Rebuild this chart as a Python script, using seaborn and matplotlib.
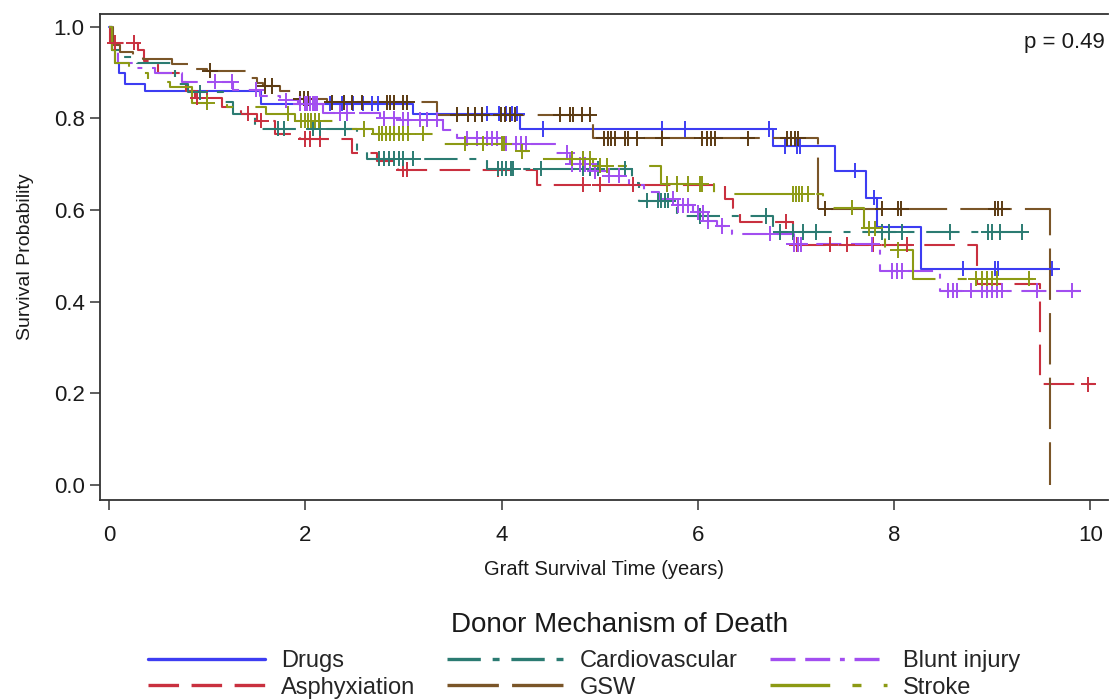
import numpy as np
import pandas as pd
import matplotlib
matplotlib.use("Agg")
import matplotlib.pyplot as plt
import seaborn as sns
from matplotlib.lines import Line2D

# ---------------- data ----------------
groups = ["Drugs", "Asphyxiation", "Cardiovascular", "GSW", "Blunt injury", "Stroke"]

drugs_t = [0, 0.03, 0.06, 0.10, 0.16, 0.37, 1.55, 3.10, 4.19, 6.77, 7.40, 7.71, 7.83, 8.27]
drugs_s = [1.0, 0.95, 0.92, 0.90, 0.875, 0.86, 0.832, 0.81, 0.777, 0.74, 0.686, 0.627, 0.563, 0.472]
drugs_end = 9.67
drugs_cens = [2.25, 2.37, 2.49, 2.59, 2.68, 2.74, 3.85, 3.97, 4.05, 4.11, 4.16, 4.42, 5.64, 5.87,
              6.73, 6.89, 7.01, 7.04, 7.60, 7.80, 8.70, 9.03, 9.06, 9.61]

asph_t = [0, 0.01, 0.30, 0.36, 0.50, 0.74, 0.78, 0.88, 1.15, 1.34, 1.51, 1.69, 1.95, 2.48, 2.73,
          2.94, 4.36, 6.28, 6.36, 6.43, 6.97, 8.85, 9.49]
asph_s = [1.0, 0.965, 0.95, 0.925, 0.90, 0.88, 0.86, 0.845, 0.825, 0.81, 0.795, 0.767, 0.755, 0.725,
          0.707, 0.688, 0.655, 0.625, 0.605, 0.575, 0.524, 0.439, 0.22]
asph_end = 10.05
asph_cens = [0.06, 0.25, 0.90, 1.00, 1.42, 1.55, 2.00, 2.05, 2.15, 3.00, 3.04, 3.96, 4.83, 5.00,
             5.34, 6.90, 7.01, 7.35, 7.52, 7.79, 8.13, 8.95, 9.98]

cv_t = [0, 0.03, 0.12, 0.29, 0.67, 0.80, 1.16, 1.26, 1.49, 2.53, 2.63, 3.85, 5.33, 5.40, 5.79, 6.77]
cv_s = [1.0, 0.95, 0.935, 0.92, 0.875, 0.857, 0.835, 0.81, 0.778, 0.73, 0.712, 0.69, 0.66, 0.62,
        0.587, 0.552]
cv_end = 9.37
cv_cens = [0.93, 1.72, 1.78, 2.08, 2.15, 2.40, 2.75, 2.80, 2.85, 2.90, 2.95, 3.00, 3.10, 3.96, 4.00,
           4.05, 4.10, 4.12, 4.40, 4.83, 4.90, 4.98, 5.26, 5.48, 5.59, 5.62, 5.67, 5.70, 6.02, 6.69,
           6.84, 6.97, 7.07, 7.20, 7.88, 7.95, 8.08, 8.57, 8.96, 9.00, 9.08, 9.30]

gsw_t = [0, 0.04, 0.11, 0.24, 0.35, 0.64, 0.88, 1.00, 1.41, 1.51, 1.57, 1.74, 1.88, 1.95, 2.22,
         3.34, 4.93, 7.22, 9.59]
gsw_s = [1.0, 0.96, 0.945, 0.937, 0.93, 0.919, 0.908, 0.904, 0.889, 0.878, 0.871, 0.86, 0.854,
         0.843, 0.835, 0.808, 0.757, 0.603, 0.0]
gsw_end = 9.59
gsw_cens = [1.03, 1.59, 1.66, 1.95, 1.99, 2.03, 2.27, 2.39, 2.48, 2.58, 2.83, 2.86, 2.90, 3.00,
            3.04, 3.55, 3.66, 3.73, 3.80, 3.99, 4.04, 4.09, 4.14, 4.60, 4.70, 4.73, 4.82, 4.90,
            5.04, 5.08, 5.12, 5.16, 5.26, 5.29, 5.38, 5.64, 6.04, 6.09, 6.13, 6.18, 6.51, 6.91,
            6.95, 6.99, 7.02, 7.30, 7.88, 8.04, 8.07, 9.03, 9.06, 9.10]

bi_t = [0, 0.03, 0.09, 0.27, 0.47, 0.74, 1.26, 1.54, 1.74, 1.93, 2.18, 2.76, 2.97, 3.40, 3.55, 4.04,
        4.55, 4.70, 4.95, 5.10, 5.30, 5.45, 5.60, 5.80, 5.95, 6.10, 6.20, 6.35, 6.98, 7.86, 8.47]
bi_s = [1.0, 0.95, 0.92, 0.91, 0.90, 0.88, 0.863, 0.85, 0.84, 0.832, 0.812, 0.80, 0.797, 0.775,
        0.757, 0.745, 0.725, 0.70, 0.685, 0.675, 0.655, 0.64, 0.625, 0.61, 0.595, 0.576, 0.565,
        0.548, 0.525, 0.467, 0.424]
bi_end = 9.90
bi_cens = [1.08, 1.25, 1.50, 1.80, 1.95, 2.00, 2.02, 2.05, 2.08, 2.10, 2.12, 2.35, 2.43, 2.80, 2.90,
           3.00, 3.05, 3.17, 3.24, 3.34, 3.65, 3.75, 3.85, 3.90, 3.95, 4.05, 4.15, 4.20, 4.25, 4.67,
           4.72, 4.80, 4.85, 4.90, 4.95, 5.10, 5.20, 5.75, 5.80, 5.85, 5.90, 6.00, 6.05, 6.10, 6.25,
           6.74, 6.98, 7.02, 7.05, 7.78, 7.98, 8.03, 8.08, 8.55, 8.60, 8.64, 8.78, 8.90, 8.95, 9.00,
           9.05, 9.10, 9.46, 9.81]

st_t = [0, 0.03, 0.06, 0.20, 0.40, 0.62, 0.85, 1.20, 1.60, 1.90, 2.30, 2.69, 3.37, 4.04, 4.36, 4.93,
        5.62, 6.16, 7.28, 7.69, 7.91, 8.19]
st_s = [1.0, 0.95, 0.92, 0.90, 0.88, 0.868, 0.834, 0.825, 0.81, 0.795, 0.777, 0.767, 0.745, 0.728,
        0.712, 0.697, 0.657, 0.635, 0.605, 0.56, 0.513, 0.45]
st_end = 9.42
st_cens = [1.00, 1.82, 1.96, 2.00, 2.03, 2.06, 2.10, 2.14, 2.60, 2.75, 2.78, 2.82, 2.86, 2.90, 2.95,
           3.00, 3.05, 3.20, 3.63, 3.81, 4.00, 4.03, 4.21, 4.72, 4.83, 4.90, 5.00, 5.07, 5.69, 5.79,
           5.90, 6.02, 6.04, 6.97, 7.00, 7.03, 7.06, 7.12, 7.57, 7.74, 7.81, 8.04, 8.83, 8.90, 8.95,
           9.00, 9.05, 9.37]

p_text = "p = 0.49"
legend_title = "Donor Mechanism of Death"
x_ticks = [0, 2, 4, 6, 8, 10]
y_ticks = [0.0, 0.2, 0.4, 0.6, 0.8, 1.0]

# ---------------- assemble ----------------
series = {
    "Drugs": (drugs_t, drugs_s, drugs_end, drugs_cens),
    "Asphyxiation": (asph_t, asph_s, asph_end, asph_cens),
    "Cardiovascular": (cv_t, cv_s, cv_end, cv_cens),
    "GSW": (gsw_t, gsw_s, gsw_end, gsw_cens),
    "Blunt injury": (bi_t, bi_s, bi_end, bi_cens),
    "Stroke": (st_t, st_s, st_end, st_cens),
}

curve_rows, cens_rows = [], []
for g, (t, s, end, cens) in series.items():
    for ti, si in zip(t, s):
        curve_rows.append((g, ti, si))
    if end > t[-1]:
        curve_rows.append((g, end, s[-1]))
    ta = np.asarray(t)
    sa = np.asarray(s)
    for c in cens:
        idx = np.searchsorted(ta, c, side="right") - 1
        cens_rows.append((g, c, sa[idx]))
curves = pd.DataFrame(curve_rows, columns=["group", "time", "surv"])
censor = pd.DataFrame(cens_rows, columns=["group", "time", "surv"])

palette = {
    "Drugs": "#3d3df2",
    "Asphyxiation": "#c9303f",
    "Cardiovascular": "#2b7b72",
    "GSW": "#7a5528",
    "Blunt injury": "#a24ef0",
    "Stroke": "#8c9a14",
}
mark_palette = dict(palette)
mark_palette["GSW"] = "#5b3a12"

# dash patterns in points (not scaled by line width)
dash_map = {
    "Drugs": "",
    "Asphyxiation": (22, 9),
    "Cardiovascular": (24, 8.5, 5, 8.5),
    "GSW": (37, 9.5),
    "Blunt injury": (18, 7, 18, 7, 3.5, 7),
    "Stroke": (43, 16, 6.5, 16),
}

sns.set_theme(style="white")
plt.rcParams["font.family"] = ["Liberation Sans", "DejaVu Sans"]
plt.rcParams["lines.scale_dashes"] = False

W, H = 1109, 700
fig = plt.figure(figsize=(W / 100, H / 100), dpi=100)
ax = fig.add_axes([100 / W, 1 - 500 / H, 1008 / W, 486 / H])

sns.lineplot(data=curves, x="time", y="surv", hue="group", style="group",
             hue_order=groups, style_order=groups, palette=palette, dashes=dash_map,
             drawstyle="steps-post", estimator=None, sort=False, linewidth=1.5,
             legend=False, ax=ax)
sns.scatterplot(data=censor, x="time", y="surv", hue="group", hue_order=groups,
                palette=mark_palette, marker="+", s=120, linewidth=1.4,
                legend=False, ax=ax, zorder=3)

ax.set_xlim(-0.092, 10.18)
ax.set_ylim(-0.033, 1.028)
ax.set_xticks(x_ticks)
ax.set_xticklabels([str(v) for v in x_ticks])
ax.set_yticks(y_ticks)
ax.set_yticklabels([f"{v:.1f}" for v in y_ticks])
ax.tick_params(axis="both", which="major", bottom=True, left=True, direction="out",
               length=7, width=1.1, color="#333333", labelsize=16, labelcolor="#1a1a1a")
ax.tick_params(axis="x", pad=11)
ax.tick_params(axis="y", pad=4)
for side in ["top", "left", "bottom"]:
    ax.spines[side].set_visible(True)
    ax.spines[side].set_color("#333333")
    ax.spines[side].set_linewidth(1.3)
ax.spines["right"].set_visible(False)
ax.set_xlabel("Graft Survival Time (years)", fontsize=14.5, color="#1a1a1a", labelpad=10)
ax.set_ylabel("Survival Probability", fontsize=14, color="#1a1a1a", labelpad=14)
ax.grid(False)

ax.text(0.997, 0.942, p_text, transform=ax.transAxes, ha="right", va="center",
        fontsize=16, color="#1a1a1a")

fig.text(619.5 / W, 1 - 625 / H, legend_title, ha="center", va="center",
         fontsize=20, color="#1a1a1a")
handles = []
for g in groups:
    h = Line2D([], [], color=palette[g], linewidth=2.4)
    if dash_map[g]:
        h.set_dashes(dash_map[g])
    else:
        h.set_linestyle("-")
    handles.append(h)
fig.legend(handles, groups, ncol=3, loc="upper left",
           bbox_to_anchor=(148 / W, 1 - 650 / H), frameon=False, fontsize=17,
           handlelength=4.95, handletextpad=0.68, columnspacing=1.36, labelspacing=0.2,
           borderpad=0, borderaxespad=0)

fig.savefig("out.png", dpi=100)
